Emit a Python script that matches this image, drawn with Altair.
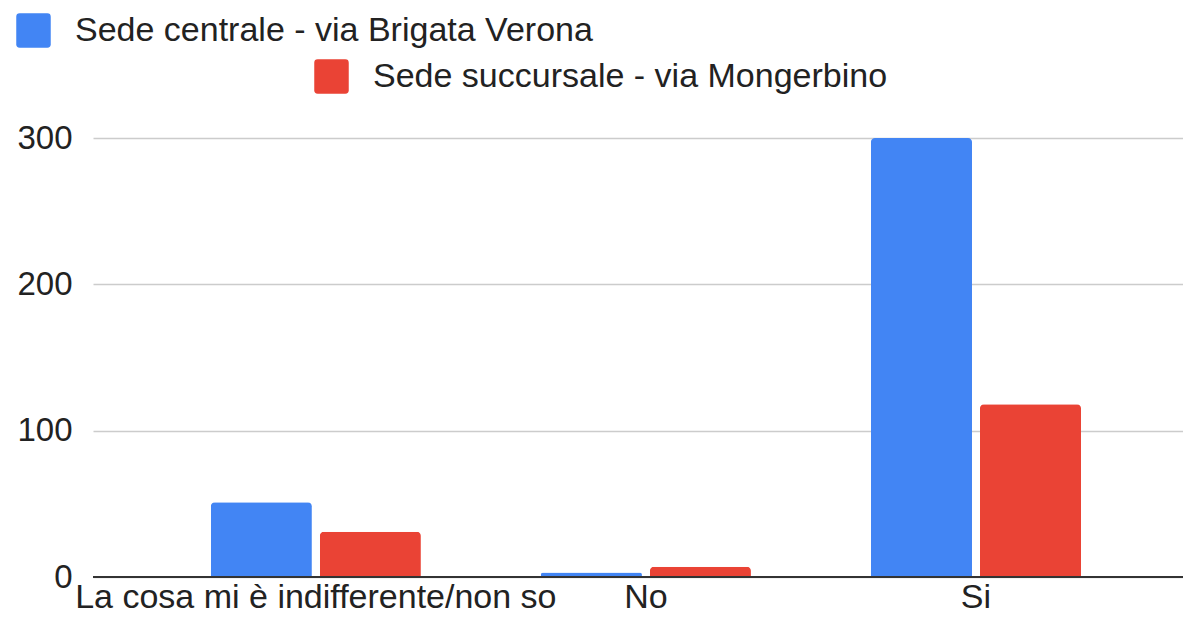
import altair as alt
import pandas as pd

categories = ["La cosa mi è indifferente/non so", "No", "Si"]
series = ["Sede centrale - via Brigata Verona", "Sede succursale - via Mongerbino"]
central_values = [51, 3, 300]
branch_values = [31, 7, 118]
colors = ["#4285F4", "#EA4335"]
y_ticks = [0, 100, 200, 300]

rows = []
for c, v in zip(categories, central_values):
    rows.append({"Categoria": c, "Serie": series[0], "Valore": v})
for c, v in zip(categories, branch_values):
    rows.append({"Categoria": c, "Serie": series[1], "Valore": v})
df = pd.DataFrame(rows)

FONT = "Liberation Sans"
FS = 33
FSX = 34
TXT = "#222222"
ROUNDED = ("M -0.8 -1 L 0.8 -1 Q 1 -1 1 -0.8 L 1 0.8 Q 1 1 0.8 1 L -0.8 1 "
           "Q -1 1 -1 0.8 L -1 -0.8 Q -1 -1 -0.8 -1 Z")

x_enc = alt.X(
    "Categoria:N",
    sort=categories,
    title=None,
    scale=alt.Scale(paddingInner=0.3636, paddingOuter=0.333, align=0.536),
    axis=alt.Axis(labelAngle=0, labelFontSize=FSX, labelFont=FONT, labelColor=TXT,
                  domain=False, ticks=False, labelPadding=30, labelBaseline="alphabetic",
                  labelLimit=700),
)
xo_enc = alt.XOffset("Serie:N", scale=alt.Scale(domain=series, paddingInner=0.073))
y_enc = alt.Y(
    "Valore:Q",
    title=None,
    scale=alt.Scale(domain=[0, 300], nice=False),
    axis=alt.Axis(values=y_ticks, labelFontSize=FS, labelFont=FONT, labelColor=TXT,
                  domain=False, ticks=False, labelPadding=21, gridColor="#cccccc",
                  gridWidth=1.5),
)

def bar_layer(i, lx, ly):
    return alt.Chart(df).transform_filter(
        alt.datum.Serie == series[i]
    ).mark_bar(cornerRadiusTopLeft=4, cornerRadiusTopRight=4).encode(
        x=x_enc,
        xOffset=xo_enc,
        y=y_enc,
        color=alt.Color(
            "Serie:N",
            scale=alt.Scale(domain=[series[i]], range=[colors[i]]),
            legend=alt.Legend(
                title=None, orient="none", legendX=lx, legendY=ly, padding=0,
                symbolType=ROUNDED, symbolSize=1190, symbolStrokeWidth=0,
                labelFontSize=FSX, labelFont=FONT, labelColor=TXT, labelOffset=24,
                labelLimit=800,
            ),
        ),
    )

blue = bar_layer(0, -77, -125)
red = bar_layer(1, 221, -79)

zero = alt.Chart(pd.DataFrame({"v": [0]})).mark_rule(color="#333333", strokeWidth=2).encode(
    y=alt.Y("v:Q", title=None)
)

chart = alt.layer(blue, red, zero).resolve_scale(color="independent").properties(
    width=1090,
    height=439,
    autosize=alt.AutoSizeParams(type="none"),
    padding={"left": 85, "top": 130, "right": 0, "bottom": 39},
).configure_view(stroke=None)

chart.save("out.html", embed_options={"renderer": "svg", "actions": False})
